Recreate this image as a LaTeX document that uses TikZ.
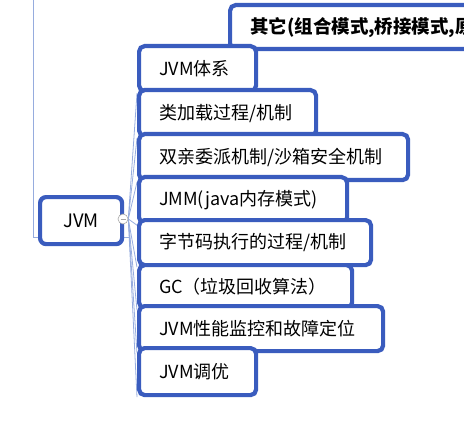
\documentclass[tikz,border=0pt]{standalone}
\usepackage{fontspec}
\usetikzlibrary{calc,backgrounds}
\setmainfont{Noto Sans CJK SC}
\definecolor{boxblue}{RGB}{58,92,190}
\definecolor{linkblue}{RGB}{150,172,222}
\tikzset{
  box/.style={draw=boxblue, line width=4.2pt, rounded corners=5.5pt, fill=white,
    anchor=north west, inner xsep=20pt, inner ysep=0pt, align=left,
    font=\fontsize{18}{20}\selectfont},
  link/.style={draw=linkblue, line width=0.8pt},
  toggle/.style={circle, draw=gray!70, fill=white, line width=0.6pt, minimum size=10pt, inner sep=0pt},
}
\newcommand{\bx}[6]{%
  \node[box, text width=#4pt-40pt, minimum height=#5pt] (#1) at (#2,#3) {#6};}
\begin{document}
\begin{tikzpicture}[x=1pt,y=-1pt]
\useasboundingbox (0,0) rectangle (464,428);
\clip (0,0) rectangle (464,428);
% connector from parent off-screen
\coordinate (ptop) at (33,-5);
\coordinate (pend) at (130,237);
\draw[link] (ptop) |- (pend);
% top partial node
\node[box, text width=260pt, minimum height=44pt, font=\fontsize{18.5}{20}\selectfont\bfseries] (other) at (228,3) {其它(组合模式,桥接模式,原};
% root
\node[draw=boxblue, line width=4.2pt, rounded corners=6pt, fill=white,
  minimum width=82pt, minimum height=47pt, anchor=north west,
  font=\fontsize{18.5}{20}\selectfont] (jvm) at (38,195) {JVM};
% branches
\bx{b1}{137}{44}{117}{45}{JVM体系}
\bx{b2}{137}{88}{177}{46}{类加载过程/机制}
\bx{b3}{137}{132}{269}{46}{双亲委派机制/沙箱安全机制}
\bx{b4}{137}{175}{208}{46}{JMM(java内存模式)}
\bx{b5}{137}{218}{232}{45}{字节码执行的过程/机制}
\bx{b6}{137}{263}{213}{43}{GC（垃圾回收算法）}
\bx{b7}{137}{304}{244}{45}{JVM性能监控和故障定位}
\bx{b8}{137}{346}{117}{47}{JVM调优}
\node[toggle] (tog) at (123,219) {};
\draw[gray!70, line width=0.6pt] ($(tog.center)+(-2.5,0)$) -- ($(tog.center)+(2.5,0)$);
\begin{scope}[on background layer]
\foreach \b in {b1,b2,b3,b4,b5,b6,b7,b8}{
  \draw[link] (tog.east) -- (\b.south west);
}
\end{scope}
\end{tikzpicture}
\end{document}
